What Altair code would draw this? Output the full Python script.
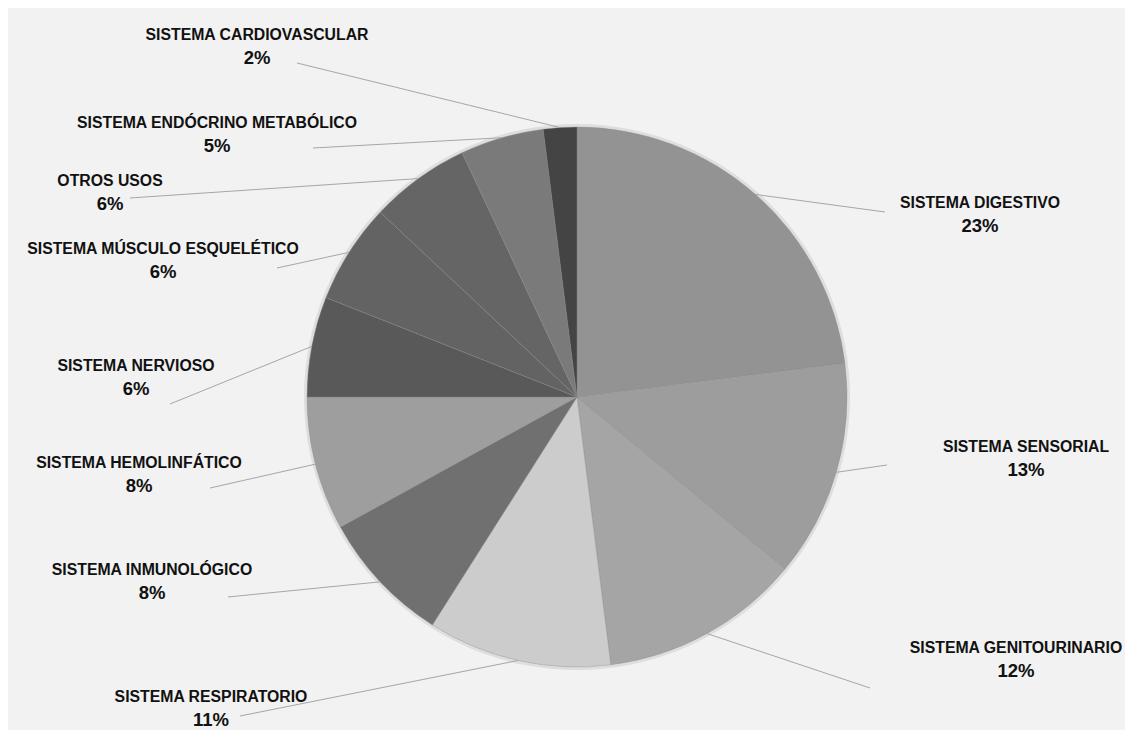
import math
import altair as alt
import pandas as pd

# ---- data -------------------------------------------------------------
names = [
    "Sistema Digestivo", "Sistema Sensorial", "Sistema Genitourinario",
    "Sistema Respiratorio", "Sistema Inmunológico", "Sistema Hemolinfático",
    "Sistema Nervioso", "Sistema Músculo Esquelético", "Otros Usos",
    "Sistema Endócrino Metabólico", "Sistema Cardiovascular",
]
values = [23, 13, 12, 11, 8, 8, 6, 6, 6, 5, 2]
colors = ["#939393", "#9d9d9d", "#a5a5a5", "#cccccc", "#707070", "#9e9e9e",
          "#595959", "#636363", "#656565", "#7a7a7a", "#444444"]

# ---- layout (page pixel coordinates) ------------------------------------
W, H = 1117, 716
X0, Y0 = 8, 8
CX, CY, R = 577, 397, 270
label_x = [980, 1026, 1016, 211, 152, 139, 136, 163, 110, 217, 257]
label_y = [203, 447, 648, 697, 570, 463, 366, 249, 181, 123, 35]
leader_x = [885, 887, 870, 240, 228, 210, 170, 277, 130, 313, 297]
leader_y = [212, 465, 688, 716, 597, 488, 404, 268, 198, 148, 63]

total = sum(values)
rows = []
cum = 0
for i, (n, v) in enumerate(zip(names, values)):
    a = 2 * math.pi * (cum + v / 2) / total
    cum += v
    rows.append({
        "order": i, "name": n, "value": v,
        "pct": f"{round(100 * v / total)}%",
        "rx": CX + R * math.sin(a), "ry": CY - R * math.cos(a),
        "lx": label_x[i], "ly": label_y[i],
        "ex": leader_x[i], "ey": leader_y[i],
    })
df = pd.DataFrame(rows)

xs = alt.Scale(domain=[X0, X0 + W], nice=False, zero=False)
ys = alt.Scale(domain=[Y0, Y0 + H], nice=False, zero=False, reverse=True)

base = alt.Chart(df)

shadow = base.transform_filter("datum.order == 0").mark_arc(
    radius=R + 3, theta=0, theta2=2 * math.pi, color="#dedede"
).encode(x=alt.XDatum(CX, scale=xs, axis=None), y=alt.YDatum(CY, scale=ys, axis=None))

arcs = base.mark_arc(radius=R, stroke="#8c8c8c", strokeWidth=0.4).encode(
    theta=alt.Theta("value:Q", stack=True),
    order=alt.Order("order:Q", sort="ascending"),
    color=alt.Color("name:N", scale=alt.Scale(domain=names, range=colors), legend=None),
    x=alt.XDatum(CX, scale=xs, axis=None),
    y=alt.YDatum(CY, scale=ys, axis=None),
)

leaders = base.mark_rule(color="#a6a6a6", strokeWidth=1).encode(
    x=alt.X("rx:Q", scale=xs, axis=None),
    y=alt.Y("ry:Q", scale=ys, axis=None),
    x2="ex:Q",
    y2="ey:Q",
)

name_text = base.transform_calculate(up="upper(datum.name)").mark_text(
    font="Liberation Sans", fontWeight="bold", fontSize=15.8, color="#111111",
    align="center", baseline="middle",
).encode(
    x=alt.X("lx:Q", scale=xs, axis=None),
    y=alt.Y("ly:Q", scale=ys, axis=None),
    text="up:N",
)

pct_text = base.mark_text(
    font="Liberation Sans", fontWeight="bold", fontSize=18.5, color="#111111",
    align="center", baseline="middle", dy=23,
).encode(
    x=alt.X("lx:Q", scale=xs, axis=None),
    y=alt.Y("ly:Q", scale=ys, axis=None),
    text="pct:N",
)

chart = alt.layer(shadow, arcs, leaders, name_text, pct_text).properties(
    width=W, height=H, background="#f2f2f2", padding=0,
).configure_view(stroke=None)

chart.save("out.html", embed_options={"renderer": "svg", "actions": False})
